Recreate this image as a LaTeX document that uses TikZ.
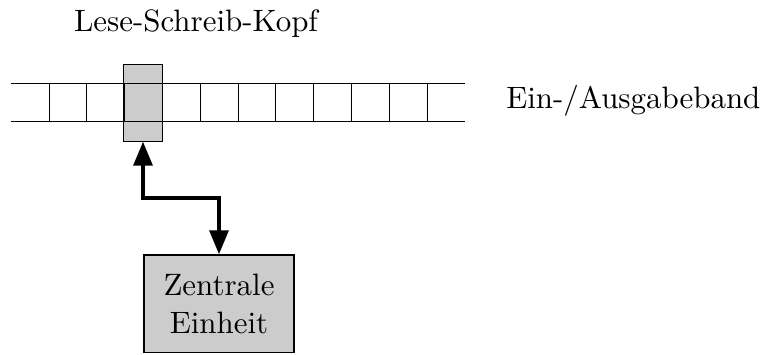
\documentclass[tikz,border=0pt]{standalone}
\usepackage{fontspec}
\setmainfont{lmroman10-regular.otf}
\usetikzlibrary{arrows.meta}
\begin{document}
\begin{tikzpicture}[x=0.75pt,y=-0.75pt,
  every node/.style={font=\fontsize{23.2pt}{28pt}\selectfont},
  tapeline/.style={line width=0.7pt},
  headbox/.style={draw,line width=0.9pt,fill=black!20,inner sep=0pt,
    minimum width=28.5pt,minimum height=57pt},
  unitbox/.style={draw,line width=1pt,fill=black!20,inner sep=0pt,align=center,
    minimum width=112.5pt,minimum height=73.3pt},
  link/.style={line width=3pt,{Triangle[length=18pt,width=14pt]}-{Triangle[length=18pt,width=14pt]}}]
  \useasboundingbox (0,0) rectangle (764,354);

  % read/write head (fill first, tape lines on top, border last)
  \node[headbox] (head) at (143,103) {};
  \fill[black!20] (head.south west) rectangle (head.north east);

  % tape: two long lines and the cell borders
  \draw[tapeline] (11,83.5) -- (465,83.5);
  \draw[tapeline] (11,121.7) -- (465,121.7);
  \foreach \k in {0,...,10}
    \draw[tapeline] ({49+37.8*\k},83.5) -- ({49+37.8*\k},121.7);
  \draw[line width=0.9pt] (head.south west) rectangle (head.north east);

  % central unit
  \node[unitbox] (cpu) at (219,303.9) {Zentrale\\Einheit};

  % labels
  \node[anchor=base] (headlabel) at (196,31.7) {Lese-Schreib-Kopf};
  \node[anchor=base west,inner sep=0pt] (tapelabel) at (506,108) {Ein-/Ausgabeband};

  % bidirectional connection head <-> unit
  \coordinate (bend) at (143,198);
  \draw[link] (head.south) -- (bend) -| (cpu.north);
\end{tikzpicture}
\end{document}
